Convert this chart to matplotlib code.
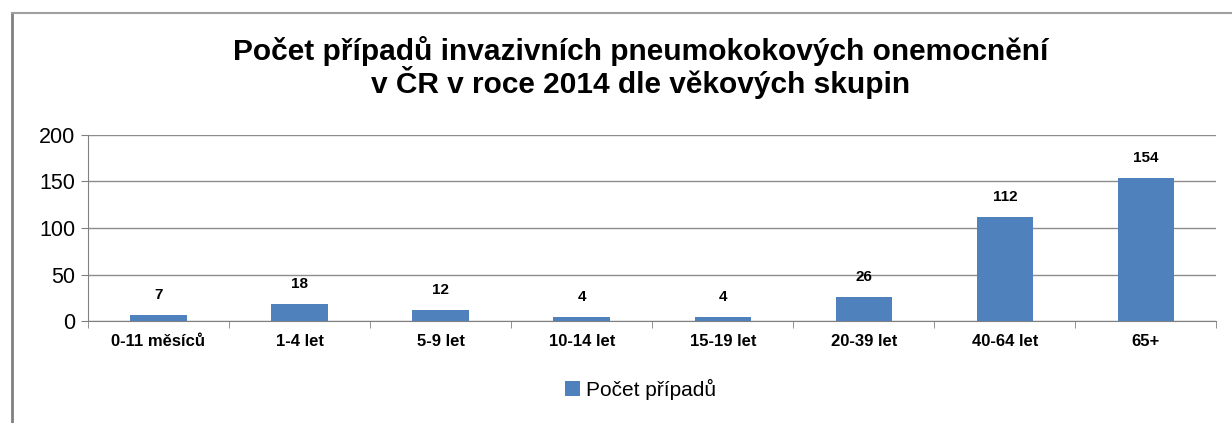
import matplotlib.pyplot as plt
import numpy as np
from matplotlib.lines import Line2D

kategorie = ["0-11 měsíců", "1-4 let", "5-9 let", "10-14 let", "15-19 let",
             "20-39 let", "40-64 let", "65+"]
pocty = [7, 18, 12, 4, 4, 26, 112, 154]

plt.rcParams['font.family'] = ['Liberation Sans', 'DejaVu Sans']

fig = plt.figure(figsize=(12.32, 4.23), dpi=100)
fig.patch.set_facecolor('white')
ax = fig.add_axes([0.0714, 0.241, 0.916, 0.44])

x = np.arange(len(kategorie))
bars = ax.bar(x, pocty, width=0.4, color='#4F81BD', label='Počet případů', zorder=3)
for xi, v in zip(x, pocty):
    ax.text(xi, v + 14, str(v), ha='center', va='bottom', fontsize=11, fontweight='bold')

ax.set_xlim(-0.5, len(kategorie) - 0.5)
ax.set_ylim(0, 200)
ax.set_yticks([0, 50, 100, 150, 200])
ax.tick_params(axis='y', length=5, labelsize=15.5, color='#808080', pad=4)
ax.yaxis.grid(True, color='#8c8c8c', linewidth=1, zorder=0)
ax.set_xticks(x)
ax.set_xticklabels(kategorie, fontsize=12, fontweight='bold')
ax.set_xticks(np.arange(-0.5, len(kategorie)), minor=True)
ax.tick_params(axis='x', which='major', length=0, pad=9)
ax.tick_params(axis='x', which='minor', length=5, color='#808080')
for s in ['top', 'right']:
    ax.spines[s].set_visible(False)
ax.spines['left'].set_color('#808080')
ax.spines['bottom'].set_color('#808080')

fig.text(0.52, 0.84, "Počet případů invazivních pneumokokových onemocnění\nv ČR v roce 2014 dle věkových skupin",
         ha='center', va='center', fontsize=21.5, fontweight='bold', linespacing=1.0)

fig.legend(handles=[bars], labels=['Počet případů'], loc='center', bbox_to_anchor=(0.52, 0.08),
           frameon=False, fontsize=15, handlelength=0.7, handleheight=0.7, handletextpad=0.3)

# okraj grafu
fig.add_artist(Line2D([0.0097, 0.0097], [0, 0.97], color='#808080', linewidth=2))
fig.add_artist(Line2D([0.0097, 1.0], [0.97, 0.97], color='#a0a0a0', linewidth=1.5))

fig.savefig('out.png', dpi=100)
